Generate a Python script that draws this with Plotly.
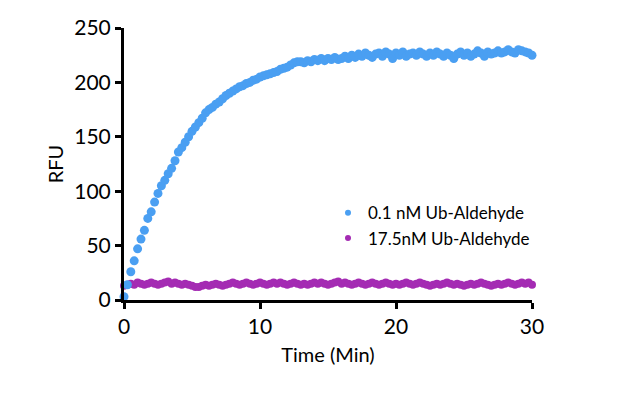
import plotly.graph_objects as go

time_min = [
    0.0, 0.25, 0.5, 0.75, 1.0, 1.25, 1.5, 1.75, 2.0, 2.25, 2.5, 2.75,
    3.0, 3.25, 3.5, 3.75, 4.0, 4.25, 4.5, 4.75, 5.0, 5.25, 5.5, 5.75,
    6.0, 6.25, 6.5, 6.75, 7.0, 7.25, 7.5, 7.75, 8.0, 8.25, 8.5, 8.75,
    9.0, 9.25, 9.5, 9.75, 10.0, 10.25, 10.5, 10.75, 11.0, 11.25, 11.5, 11.75,
    12.0, 12.25, 12.5, 12.75, 13.0, 13.25, 13.5, 13.75, 14.0, 14.25, 14.5, 14.75,
    15.0, 15.25, 15.5, 15.75, 16.0, 16.25, 16.5, 16.75, 17.0, 17.25, 17.5, 17.75,
    18.0, 18.25, 18.5, 18.75, 19.0, 19.25, 19.5, 19.75, 20.0, 20.25, 20.5, 20.75,
    21.0, 21.25, 21.5, 21.75, 22.0, 22.25, 22.5, 22.75, 23.0, 23.25, 23.5, 23.75,
    24.0, 24.25, 24.5, 24.75, 25.0, 25.25, 25.5, 25.75, 26.0, 26.25, 26.5, 26.75,
    27.0, 27.25, 27.5, 27.75, 28.0, 28.25, 28.5, 28.75, 29.0, 29.25, 29.5, 29.75,
    30.0,
]

rfu_low_inhibitor = [
    3, 14, 26, 36, 47, 56, 64, 75, 81, 90, 98, 105,
    110, 116, 121, 128, 136, 140, 145, 150, 155, 159, 163, 167,
    172, 175, 177, 180, 182, 185, 188, 190, 192, 194, 196, 197,
    199, 200, 202, 203, 205, 206, 207, 208, 209, 210, 212, 213,
    214, 216, 218, 219, 219, 218, 220, 219, 221, 220, 222, 220,
    222, 221, 223, 221, 222, 224, 222, 225, 223, 226, 224, 227,
    225, 223, 226, 227, 224, 228, 226, 222, 227, 225, 228, 224,
    226, 227, 225, 228, 226, 224, 227, 225, 228, 226, 224, 227,
    225, 222, 226, 228, 225, 227, 224, 226, 229, 227, 224, 228,
    226, 227, 229, 227, 228, 230, 228, 227, 230, 229, 228, 227,
    225,
]

rfu_high_inhibitor = [
    13, 14, 15, 14, 16, 15, 14, 15, 16, 15, 14, 15,
    16, 17, 15, 16, 15, 14, 15, 14, 13, 12, 12, 13,
    14, 13, 14, 15, 14, 13, 14, 15, 16, 15, 14, 15,
    16, 15, 14, 15, 16, 15, 14, 15, 16, 15, 16, 15,
    14, 15, 16, 15, 14, 15, 14, 15, 16, 15, 16, 15,
    14, 15, 16, 17, 15, 16, 15, 14, 15, 16, 15, 14,
    15, 16, 15, 14, 15, 16, 15, 14, 15, 14, 15, 16,
    15, 14, 15, 16, 15, 14, 13, 14, 15, 14, 15, 16,
    15, 14, 15, 14, 13, 14, 15, 14, 15, 16, 15, 14,
    13, 14, 15, 14, 15, 16, 15, 14, 15, 16, 15, 16,
    14,
]

series_names = ["0.1 nM Ub-Aldehyde", "17.5nM Ub-Aldehyde"]
series_colors = ["#4A9FF2", "#A42BB3"]

x_ticks = [0, 10, 20, 30]
y_ticks = [0, 50, 100, 150, 200, 250]

fig = go.Figure()

for name, ys, col, sz in [
    (series_names[1], rfu_high_inhibitor, series_colors[1], 8),
    (series_names[0], rfu_low_inhibitor, series_colors[0], 9),
]:
    fig.add_trace(go.Scatter(
        x=time_min, y=ys, mode="markers", name=name,
        marker=dict(color=col, size=sz, line=dict(width=0)),
        cliponaxis=False, showlegend=False,
    ))

for name, col in zip(series_names, series_colors):
    fig.add_trace(go.Scatter(
        x=[None], y=[None], mode="markers", name=name,
        marker=dict(color=col, size=6),
        showlegend=True,
    ))

axis_common = dict(
    showline=True, linecolor="black", linewidth=3,
    ticks="outside", ticklen=6, tickwidth=3, tickcolor="black",
    showgrid=False, zeroline=False,
    tickfont=dict(family="Lato", size=21, color="black"),
)

fig.update_xaxes(
    range=[0, 30], tickvals=x_ticks,
    title=dict(text="Time (Min)", font=dict(family="Lato", size=20, color="black"), standoff=11),
    **axis_common,
)
fig.update_yaxes(
    range=[0, 250], tickvals=y_ticks,
    title=dict(text="RFU", font=dict(family="Lato", size=20, color="black"), standoff=6),
    **axis_common,
)

fig.update_layout(
    width=627, height=377,
    margin=dict(l=116, r=103, t=20, b=85, autoexpand=False),
    paper_bgcolor="white", plot_bgcolor="white",
    legend=dict(
        x=0.50, y=0.385, xanchor="left", yanchor="top",
        font=dict(family="Lato", size=17, color="black"),
        bgcolor="rgba(0,0,0,0)", itemwidth=30, tracegroupgap=0,
    ),
)

fig.write_html("out.html")
